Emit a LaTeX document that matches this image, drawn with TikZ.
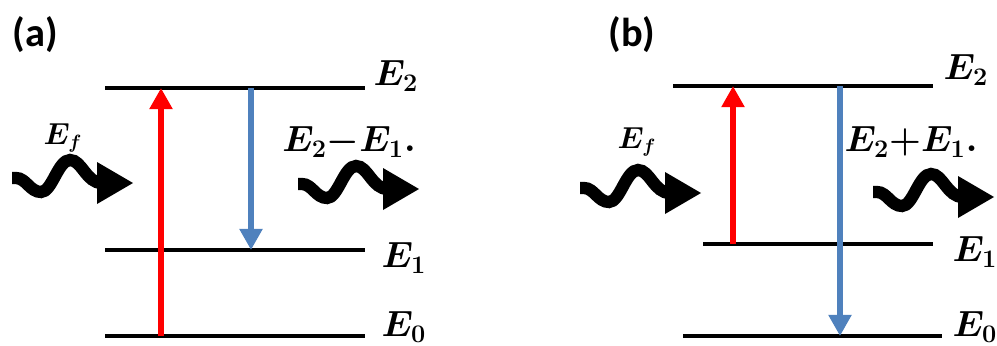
\documentclass[tikz,border=0pt]{standalone}
\usepackage{fontspec}
\newfontfamily\panelfont{Carlito}
\usetikzlibrary{arrows.meta}
\definecolor{PumpRed}{RGB}{255,0,0}
\definecolor{EmitBlue}{RGB}{79,129,189}

\begin{document}
\begin{tikzpicture}[
    x=0.02cm, y=-0.02cm,
    level/.style={line width=2.6pt,black},
    pump/.style={-{Triangle[length=12pt,width=12.5pt]},line width=3.4pt,PumpRed},
    emit/.style={-{Triangle[length=12pt,width=12.5pt]},line width=3.8pt,EmitBlue},
    elabel/.style={font=\fontsize{20}{23}\selectfont\boldmath,inner sep=0pt},
    flabel/.style={font=\fontsize{16}{19}\selectfont\boldmath,inner sep=0pt},
    panel/.style={font=\panelfont\bfseries\fontsize{23}{26}\selectfont,inner sep=0pt},
    photon/.pic={
        \draw[line width=7pt] (0,0) -- (4,0) .. controls (14,0) and (18,14) .. (29,14)
            .. controls (40,14) and (46,-18) .. (58,-18) .. controls (70,-18) and (74,5) .. (90,5);
        \fill (85,-16) -- (121,5) -- (85,26) -- cycle;
    }
]
\useasboundingbox (0,0) rectangle (997,345);

% Panel (a)
\node[panel] (pa) at (35,35) {(a)};
\draw[level] (105,88) coordinate (aE2l) -- (365,88) coordinate (aE2r);
\draw[level] (105,250) coordinate (aE1l) -- (365,250) coordinate (aE1r);
\draw[level] (105,336) coordinate (aE0l) -- (365,336) coordinate (aE0r);
\node[elabel] (la2) at (396,76) {$E_2$};
\node[elabel] (la1) at (404,258) {$E_1$};
\node[elabel] (la0) at (404,327) {$E_0$};

\coordinate (aUpS) at (161,336);
\coordinate (aUpE) at (161,88);
\coordinate (aDnS) at (251,88);
\coordinate (aDnE) at (251,250);
\draw[pump] (aUpS) -- (aUpE);
\draw[emit] (aDnS) -- (aDnE);

\node[flabel] (lfa) at (63,138) {$E_f$};
\pic at (12,178) {photon};
\node[elabel] (loa) at (349,142) {$E_2{-}E_1.$};
\pic at (298,184) {photon};

% Panel (b)
\node[panel] (pb) at (632,35) {(b)};
\draw[level] (673,86) coordinate (bE2l) -- (933,86) coordinate (bE2r);
\draw[level] (703,244) coordinate (bE1l) -- (933,244) coordinate (bE1r);
\draw[level] (683,336) coordinate (bE0l) -- (942,336) coordinate (bE0r);
\node[elabel] (lb2) at (966,70) {$E_2$};
\node[elabel] (lb1) at (975,252) {$E_1$};
\node[elabel] (lb0) at (975,327) {$E_0$};

\coordinate (bUpS) at (733,244);
\coordinate (bUpE) at (733,86);
\coordinate (bDnS) at (840,86);
\coordinate (bDnE) at (840,336);
\draw[pump] (bUpS) -- (bUpE);
\draw[emit] (bDnS) -- (bDnE);

\node[flabel] (lfb) at (637,142) {$E_f$};
\pic at (580,188) {photon};
\node[elabel] (lob) at (911,142) {$E_2{+}E_1.$};
\pic at (873,192) {photon};
\end{tikzpicture}
\end{document}
